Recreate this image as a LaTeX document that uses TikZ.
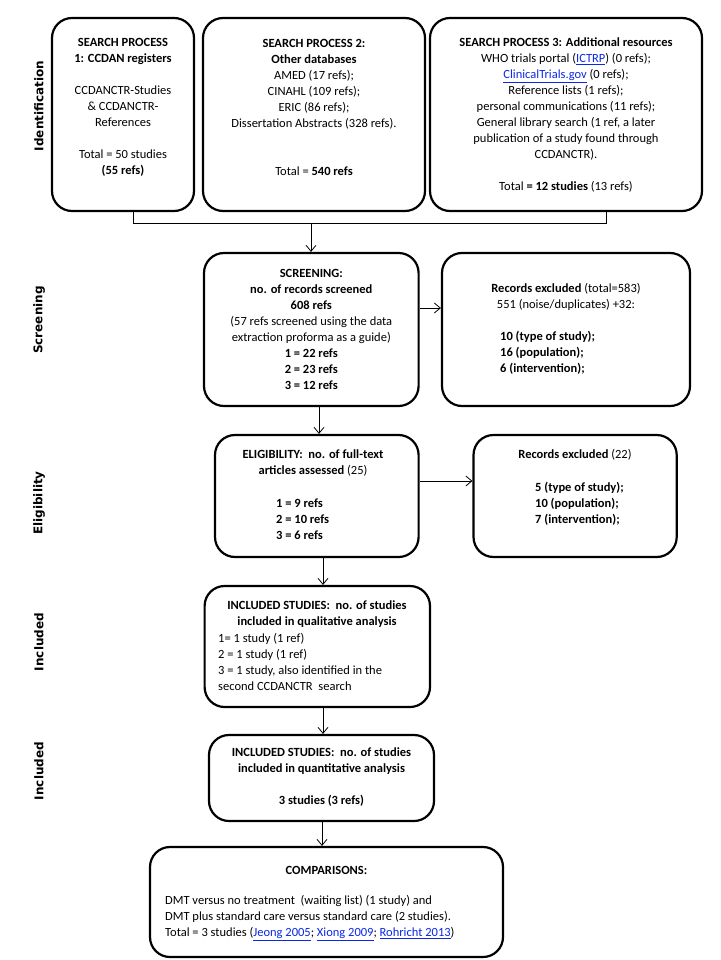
\documentclass[tikz,border=0pt]{standalone}
\usepackage{fontspec}
\setmainfont{Carlito}
\newfontfamily\sidefont{DejaVu Sans}
\usetikzlibrary{arrows.meta}
\definecolor{linkblue}{RGB}{10,40,230}
\newcommand{\lnk}[1]{\textcolor{linkblue}{\underline{#1}}}
\begin{document}
\begin{tikzpicture}[x=1pt,y=-1pt,
  box/.style={draw,line width=2.2pt,rounded corners=20pt,inner sep=0pt},
  txt/.style={inner sep=0pt,align=center,font=\fontsize{12.5}{16}\selectfont},
  ltxt/.style={inner sep=0pt,align=left,font=\fontsize{12.5}{16}\selectfont},
  side/.style={rotate=90,font=\sidefont\bfseries\fontsize{12}{14}\selectfont,inner sep=0pt},
  conn/.style={line width=0.8pt},
  arr/.style={conn,-{Straight Barb[length=6pt,width=10pt]}}]
\fill[white] (0,0) rectangle (720,960);
\useasboundingbox (0,0) rectangle (720,960);

% boxes
\node[box,minimum width=142pt,minimum height=193pt] (b1) at (123,114.5) {};
\node[box,minimum width=222pt,minimum height=193pt] (b2) at (314,114.5) {};
\node[box,minimum width=272pt,minimum height=193pt] (b3) at (566,114.5) {};
\node[box,minimum width=214.6pt,minimum height=153pt] (scr) at (311.3,329.5) {};
\node[box,minimum width=248pt,minimum height=153pt] (ex1) at (566,329.5) {};
\node[box,minimum width=203.6pt,minimum height=122pt] (elig) at (316.8,496) {};
\node[box,minimum width=203.2pt,minimum height=122pt] (ex2) at (575.1,496) {};
\node[box,minimum width=225.4pt,minimum height=121pt] (inc1) at (317.3,646.5) {};
\node[box,minimum width=225pt,minimum height=86pt] (inc2) at (321.5,778) {};
\node[box,minimum width=353pt,minimum height=110pt] (comp) at (326.5,902) {};

% texts
\node[txt] (t1) at (123,107) {\textbf{SEARCH PROCESS}\\\textbf{1: CCDAN registers}\\[16pt]CCDANCTR-Studies\\\& CCDANCTR-\\References\\[16pt]Total = 50 studies\\\textbf{(55 refs)}};
\node[txt] (t2) at (314,107) {\textbf{SEARCH PROCESS 2:}\\\textbf{Other databases}\\AMED (17 refs);\\CINAHL (109 refs);\\ERIC (86 refs);\\Dissertation Abstracts (328 refs).\\[32pt]Total = \textbf{540 refs}};
\node[txt] (t3) at (566,115) {\textbf{SEARCH PROCESS 3: Additional resources}\\WHO trials portal (\lnk{ICTRP}) (0 refs);\\\lnk{ClinicalTrials.gov} (0 refs);\\Reference lists (1 refs);\\personal communications (11 refs);\\General library search (1 ref, a later\\publication of a study found through\\CCDANCTR).\\[16pt]Total \textbf{= 12 studies} (13 refs)};
\node[txt] (tscr) at (311.3,329) {\textbf{SCREENING:}\\\textbf{no. of records screened}\\\textbf{608 refs}\\(57 refs screened using the data\\extraction proforma as a guide)\\\textbf{1 = 22 refs}\\\textbf{2 = 23 refs}\\\textbf{3 = 12 refs}};
\node[txt] (tex1) at (566,297) {\textbf{Records excluded} (total=583)\\551 (noise/duplicates) +32:};
\node[ltxt,anchor=west] (lex1) at (500,353) {\textbf{10 (type of study);}\\\textbf{16 (population);}\\\textbf{6 (intervention);}};
\node[txt] (telig) at (313,463) {\textbf{ELIGIBILITY:\ \ no. of full-text}\\\textbf{articles assessed} (25)};
\node[ltxt,anchor=west] (lelig) at (276,519) {\textbf{1 = 9 refs}\\\textbf{2 = 10 refs}\\\textbf{3 = 6 refs}};
\node[txt] (tex2) at (575,455) {\textbf{Records excluded} (22)};
\node[ltxt,anchor=west] (lex2) at (535,503.5) {\textbf{5 (type of study);}\\\textbf{10 (population);}\\\textbf{7 (intervention);}};
\node[txt] (tinc1) at (317,614) {\textbf{INCLUDED STUDIES:\ \ no. of studies}\\\textbf{included in qualitative analysis}};
\node[ltxt,anchor=west] (linc1) at (218,662) {1= 1 study (1 ref)\\2 = 1 study (1 ref)\\3 = 1 study, also identified in the\\second CCDANCTR\ \ search};
\node[txt] (tinc2) at (321.5,777) {\textbf{INCLUDED STUDIES:\ \ no. of studies}\\\textbf{included in quantitative analysis}\\[16pt]\textbf{3 studies (3 refs)}};
\node[txt] (tcomp) at (326.5,870) {\textbf{COMPARISONS:}};
\node[ltxt,anchor=west] (lcomp) at (165,917.7) {DMT versus no treatment\ \ (waiting list) (1 study) and\\DMT plus standard care versus standard care (2 studies).\\Total = 3 studies (\lnk{Jeong 2005}; \lnk{Xiong 2009}; \lnk{Rohricht 2013})};

% side labels
\node[side] (s1) at (39,106) {Identification};
\node[side] (s2) at (39,320) {Screening};
\node[side] (s3) at (39,503) {Eligibility};
\node[side] (s4) at (39,642) {Included};
\node[side] (s5) at (39,771) {Included};

% connectors
\coordinate (l1) at (133,223);
\coordinate (r3) at (606,223);
\coordinate (j) at (311,223);
\draw[conn] (b1.south -| l1) -- (l1) -- (r3) -- (b3.south -| r3);
\draw[arr] (j) -- (scr.north -| j);
\coordinate (a1) at (0,308);
\draw[arr] (scr.east |- a1) -- (ex1.west |- a1);
\coordinate (x1) at (319,0);
\draw[arr] (scr.south -| x1) -- (elig.north -| x1);
\coordinate (a2) at (0,481);
\draw[arr] (elig.east |- a2) -- (ex2.west |- a2);
\coordinate (x2) at (323,0);
\draw[arr] (elig.south -| x2) -- (inc1.north -| x2);
\draw[arr] (inc1.south -| x2) -- (inc2.north -| x2);
\coordinate (x3) at (322,0);
\draw[arr] (inc2.south -| x3) -- (comp.north -| x3);
\end{tikzpicture}
\end{document}
